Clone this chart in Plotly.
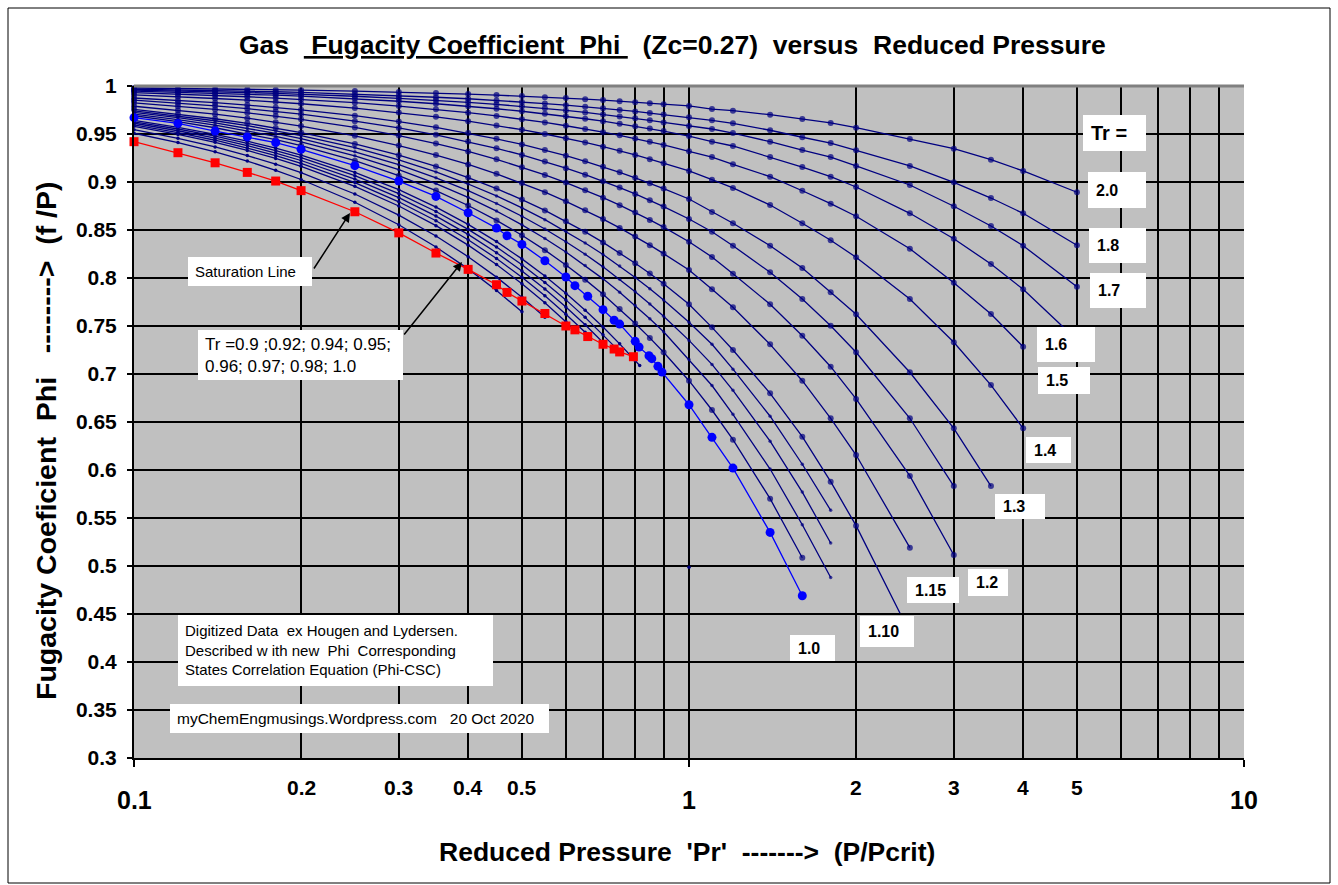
import math
import plotly.graph_objects as go

# ---------------- data ----------------
# common reduced-pressure grid used by the supercritical isotherms
PR_GRID = [0.1, 0.12, 0.14, 0.16, 0.18, 0.2, 0.25, 0.3, 0.35, 0.4, 0.45, 0.5, 0.55, 0.6,
           0.65, 0.7, 0.75, 0.8, 0.85, 0.9, 1.0, 1.1, 1.2, 1.4, 1.6, 1.8, 2.0, 2.5, 3.0,
           3.5, 4.0, 5.0]

# supercritical isotherms: Tr, last Pr, phi values
TR_SUPER = [2.0, 1.8, 1.7, 1.6, 1.5, 1.4, 1.3, 1.25, 1.2, 1.15, 1.10, 1.08, 1.06, 1.04, 1.02]
END_SUPER = [5.0, 5.0, 5.0, 5.0, 4.0, 4.0, 3.5, 3.0, 3.0, 2.5, 2.4, 1.8, 1.8, 1.8, 1.6]

PHI_20 = [0.9979, 0.9975, 0.9970, 0.9966, 0.9962, 0.9958, 0.9947, 0.9937, 0.9926, 0.9916, 0.9905,
          0.9895, 0.9884, 0.9874, 0.9863, 0.9853, 0.9842, 0.9832, 0.9821, 0.9811, 0.9792, 0.9760,
          0.9743, 0.9701, 0.9656, 0.9615, 0.9566, 0.9448, 0.9347, 0.9232, 0.9115, 0.8893]
PHI_18 = [0.9966, 0.9960, 0.9953, 0.9946, 0.9940, 0.9933, 0.9916, 0.9900, 0.9883, 0.9867, 0.9850,
          0.9833, 0.9817, 0.9800, 0.9784, 0.9768, 0.9751, 0.9735, 0.9718, 0.9702, 0.9674, 0.9643,
          0.9611, 0.9539, 0.9466, 0.9406, 0.9330, 0.9167, 0.8997, 0.8833, 0.8674, 0.8341]
PHI_17 = [0.9957, 0.9949, 0.9940, 0.9932, 0.9923, 0.9915, 0.9893, 0.9872, 0.9851, 0.9830, 0.9809,
          0.9788, 0.9767, 0.9746, 0.9725, 0.9704, 0.9683, 0.9663, 0.9642, 0.9621, 0.9583, 0.9552,
          0.9510, 0.9420, 0.9333, 0.9260, 0.9167, 0.8969, 0.8747, 0.8542, 0.8336, 0.7909]
PHI_16 = [0.9947, 0.9936, 0.9925, 0.9915, 0.9904, 0.9894, 0.9867, 0.9841, 0.9815, 0.9789, 0.9763,
          0.9737, 0.9711, 0.9685, 0.9659, 0.9633, 0.9607, 0.9582, 0.9556, 0.9531, 0.9479, 0.9420,
          0.9375, 0.9260, 0.9156, 0.9055, 0.8948, 0.8674, 0.8409, 0.8146, 0.7882, 0.7354]
PHI_15 = [0.9930, 0.9916, 0.9902, 0.9888, 0.9874, 0.9860, 0.9826, 0.9791, 0.9757, 0.9722, 0.9688,
          0.9654, 0.9620, 0.9586, 0.9553, 0.9519, 0.9486, 0.9452, 0.9419, 0.9386, 0.9320, 0.9260,
          0.9184, 0.9055, 0.8909, 0.8774, 0.8643, 0.8305, 0.7951, 0.7625, 0.7284]
PHI_14 = [0.9907, 0.9889, 0.9870, 0.9852, 0.9834, 0.9815, 0.9770, 0.9724, 0.9679, 0.9634, 0.9589,
          0.9545, 0.9500, 0.9456, 0.9412, 0.9368, 0.9325, 0.9282, 0.9238, 0.9195, 0.9115, 0.9024,
          0.8938, 0.8760, 0.8570, 0.8393, 0.8216, 0.7781, 0.7330, 0.6885, 0.6434]
PHI_13 = [0.9875, 0.9850, 0.9826, 0.9801, 0.9776, 0.9752, 0.9691, 0.9630, 0.9570, 0.9510, 0.9450,
          0.9391, 0.9333, 0.9274, 0.9216, 0.9158, 0.9101, 0.9044, 0.8987, 0.8931, 0.8823, 0.8688,
          0.8570, 0.8336, 0.8104, 0.7851, 0.7622, 0.7018, 0.6434, 0.5833]
PHI_125 = [0.9852, 0.9823, 0.9793, 0.9764, 0.9735, 0.9706, 0.9634, 0.9563, 0.9492, 0.9421, 0.9351,
           0.9282, 0.9213, 0.9144, 0.9076, 0.9009, 0.8942, 0.8876, 0.8810, 0.8744, 0.8615, 0.8482,
           0.8336, 0.8059, 0.7781, 0.7503, 0.7226, 0.6539, 0.5833]
PHI_12 = [0.9825, 0.9790, 0.9756, 0.9721, 0.9687, 0.9653, 0.9568, 0.9484, 0.9400, 0.9318, 0.9236,
          0.9154, 0.9074, 0.8994, 0.8915, 0.8837, 0.8759, 0.8682, 0.8605, 0.8530, 0.8378, 0.8219,
          0.8045, 0.7726, 0.7399, 0.7076, 0.6740, 0.5938, 0.5115]
PHI_115 = [0.9789, 0.9747, 0.9706, 0.9665, 0.9623, 0.9583, 0.9481, 0.9380, 0.9281, 0.9183, 0.9085,
           0.8989, 0.8894, 0.8799, 0.8706, 0.8614, 0.8522, 0.8432, 0.8342, 0.8254, 0.8083, 0.7882,
           0.7695, 0.7309, 0.6930, 0.6539, 0.6156, 0.5191]
PHI_110 = [0.9756, 0.9707, 0.9659, 0.9611, 0.9563, 0.9515, 0.9397, 0.9279, 0.9162, 0.9046, 0.8931,
           0.8817, 0.8704, 0.8592, 0.8481, 0.8371, 0.8261, 0.8153, 0.8046, 0.7940, 0.7726, 0.7486,
           0.7250, 0.6799, 0.6347, 0.5878, 0.5420, 0.4507]
PHI_108 = [0.9741, 0.9689, 0.9638, 0.9587, 0.9535, 0.9484, 0.9357, 0.9230, 0.9105, 0.8979, 0.8855,
           0.8731, 0.8608, 0.8486, 0.8365, 0.8244, 0.8125, 0.8006, 0.7888, 0.7771, 0.7540, 0.7310,
           0.7050, 0.6560, 0.6060, 0.5580]
PHI_106 = [0.9725, 0.9670, 0.9615, 0.9561, 0.9506, 0.9452, 0.9315, 0.9180, 0.9044, 0.8910, 0.8776,
           0.8643, 0.8510, 0.8378, 0.8247, 0.8116, 0.7986, 0.7857, 0.7729, 0.7602, 0.7350, 0.7100,
           0.6830, 0.6300, 0.5770, 0.5240]
PHI_104 = [0.9708, 0.9650, 0.9592, 0.9534, 0.9476, 0.9418, 0.9273, 0.9128, 0.8984, 0.8840, 0.8697,
           0.8554, 0.8412, 0.8271, 0.8130, 0.7991, 0.7851, 0.7713, 0.7576, 0.7440, 0.7150, 0.6880,
           0.6580, 0.6010, 0.5430, 0.4880]
PHI_102 = [0.9690, 0.9628, 0.9565, 0.9503, 0.9441, 0.9378, 0.9222, 0.9066, 0.8911, 0.8755, 0.8600,
           0.8445, 0.8290, 0.8136, 0.7983, 0.7830, 0.7677, 0.7526, 0.7376, 0.7226, 0.6930, 0.6625,
           0.6316, 0.5701, 0.5086]
PHI_SUPER = [PHI_20, PHI_18, PHI_17, PHI_16, PHI_15, PHI_14, PHI_13, PHI_125, PHI_12, PHI_115,
             PHI_110, PHI_108, PHI_106, PHI_104, PHI_102]

# Tr = 1.0 (critical isotherm, highlighted blue)
PR_10 = [0.1, 0.12, 0.14, 0.16, 0.18, 0.2, 0.25, 0.3, 0.35, 0.4, 0.45, 0.47, 0.5, 0.55, 0.6, 0.623,
         0.657, 0.7, 0.733, 0.75, 0.8, 0.813, 0.847, 0.857, 0.879, 0.894, 1.0, 1.1, 1.2, 1.4, 1.6]
PHI_10 = [0.967, 0.961, 0.953, 0.947, 0.941, 0.934, 0.917, 0.901, 0.885, 0.868, 0.852, 0.844,
          0.835, 0.818, 0.801, 0.792, 0.781, 0.767, 0.756, 0.752, 0.734, 0.728, 0.719, 0.716,
          0.708, 0.702, 0.668, 0.634, 0.602, 0.535, 0.469]

# subcritical isotherms ending at the saturation line
TR_SUB = [0.98, 0.97, 0.96, 0.95, 0.94, 0.92, 0.90]
END_SUB = [0.815, 0.74, 0.70, 0.66, 0.62, 0.55, 0.50]
PHI_098 = [0.9641, 0.9570, 0.9497, 0.9425, 0.9353, 0.9281, 0.9100, 0.8920, 0.8739, 0.8559, 0.8379,
           0.8199, 0.8020, 0.7842, 0.7665, 0.7489, 0.7314, 0.7140, 0.7088]
PHI_097 = [0.9627, 0.9552, 0.9477, 0.9403, 0.9328, 0.9253, 0.9066, 0.8879, 0.8693, 0.8507, 0.8322,
           0.8138, 0.7954, 0.7772, 0.7590, 0.7410, 0.7267]
PHI_096 = [0.9612, 0.9534, 0.9456, 0.9379, 0.9301, 0.9224, 0.9030, 0.8838, 0.8645, 0.8454, 0.8263,
           0.8074, 0.7885, 0.7699, 0.7513, 0.7329]
PHI_095 = [0.9596, 0.9515, 0.9435, 0.9354, 0.9274, 0.9194, 0.8994, 0.8794, 0.8596, 0.8399, 0.8203,
           0.8008, 0.7815, 0.7623, 0.7434, 0.7396]
PHI_094 = [0.9580, 0.9496, 0.9413, 0.9329, 0.9246, 0.9163, 0.8955, 0.8750, 0.8545, 0.8342, 0.8140,
           0.7940, 0.7742, 0.7546, 0.7468]
PHI_092 = [0.9545, 0.9455, 0.9365, 0.9275, 0.9186, 0.9097, 0.8875, 0.8655, 0.8438, 0.8222, 0.8009,
           0.7799, 0.7590]
PHI_090 = [0.9508, 0.9411, 0.9314, 0.9218, 0.9122, 0.9026, 0.8789, 0.8555, 0.8323, 0.8095, 0.7870,
           0.7648]
PHI_SUB = [PHI_098, PHI_097, PHI_096, PHI_095, PHI_094, PHI_092, PHI_090]

# saturation line
PR_SAT = [0.1, 0.12, 0.14, 0.16, 0.18, 0.2, 0.25, 0.3, 0.35, 0.4, 0.45, 0.47, 0.5, 0.55, 0.6,
          0.623, 0.657, 0.7, 0.733, 0.75, 0.794]
PHI_SAT = [0.942, 0.9305, 0.920, 0.910, 0.901, 0.891, 0.869, 0.847, 0.826, 0.809, 0.793, 0.785,
           0.776, 0.763, 0.750, 0.746, 0.739, 0.731, 0.726, 0.723, 0.718]

# lone point at Pr = 1
PR_DOT = [1.0]
PHI_DOT = [0.4986]

# axis ticks / labels
Y_TICKS = [0.3, 0.35, 0.4, 0.45, 0.5, 0.55, 0.6, 0.65, 0.7, 0.75, 0.8, 0.85, 0.9, 0.95, 1.0]
X_MAJOR = [0.1, 1, 10]
X_MINOR_LABELED = [0.2, 0.3, 0.4, 0.5, 2, 3, 4, 5]
X_MINOR_GRID = [0.2, 0.3, 0.4, 0.5, 0.6, 0.7, 0.8, 0.9, 2, 3, 4, 5, 6, 7, 8, 9]

CURVE_LABELS = ["Tr =", "2.0", "1.8", "1.7", "1.6", "1.5", "1.4", "1.3", "1.2", "1.15", "1.10", "1.0"]

TITLE = ("Gas\u00a0 <u>\u00a0Fugacity Coefficient\u00a0\u00a0Phi\u00a0</u>\u00a0\u00a0(Zc=0.27)"
         "\u00a0\u00a0versus\u00a0\u00a0Reduced Pressure")
X_TITLE = "Reduced Pressure\u00a0\u00a0'Pr'\u00a0\u00a0------->\u00a0\u00a0(P/Pcrit)"
Y_TITLE = "Fugacity Coeficient\u00a0\u00a0Phi\u00a0\u00a0\u00a0-------->\u00a0\u00a0(f /P)"
NOTE_SAT = "Saturation Line"
NOTE_TR = "Tr =0.9 ;0.92; 0.94; 0.95;<br>0.96; 0.97; 0.98; 1.0"
NOTE_SRC = ("Digitized Data\u00a0 ex Hougen and Lydersen.<br>Described w ith new\u00a0 Phi\u00a0 Corresponding"
            "<br>States Correlation Equation (Phi-CSC)")
NOTE_WEB = "myChemEngmusings.Wordpress.com\u00a0\u00a0 20 Oct 2020"

# ---------------- styling ----------------
W, H = 1338, 885
L, R, T, B = 134, 94, 86, 127
PW, PH = W - L - R, H - T - B
FONT = "Liberation Sans, Arial, sans-serif"
NAVY = "#000080"
BLUE = "#0000FF"
RED = "#FF0000"
GRIDW = 1.8


def px(xp):
    return (xp - L) / PW


def py(yp):
    return (H - B - yp) / PH


def xs_for(grid, end):
    return [p for p in grid if p < end - 1e-9] + [end]


fig = go.Figure()

super_marker = {2.0: 6, 1.8: 6, 1.7: 6, 1.6: 6, 1.5: 6, 1.4: 6, 1.3: 6, 1.25: 6, 1.2: 6,
                1.15: 6, 1.10: 6, 1.08: 3.5, 1.06: 3.5, 1.04: 3.5, 1.02: 6}

for tr, end, phi in zip(TR_SUPER, END_SUPER, PHI_SUPER):
    xs = xs_for(PR_GRID, end)
    assert len(xs) == len(phi), (tr, len(xs), len(phi))
    sz = [super_marker[tr]] * len(xs)
    if tr == 1.10:
        sz[-1] = 0
    fig.add_trace(go.Scatter(x=xs, y=phi, mode="lines+markers", cliponaxis=False,
                             line=dict(color=NAVY, width=1.3),
                             marker=dict(color=NAVY, size=sz, line=dict(width=0)),
                             name=f"Tr={tr}", showlegend=False, hoverinfo="skip"))

for tr, end, phi in zip(TR_SUB, END_SUB, PHI_SUB):
    xs = xs_for(PR_GRID, end)
    assert len(xs) == len(phi), (tr, len(xs), len(phi))
    fig.add_trace(go.Scatter(x=xs, y=phi, mode="lines+markers", cliponaxis=False,
                             line=dict(color=NAVY, width=1.3),
                             marker=dict(color=NAVY, size=3.5, line=dict(width=0)),
                             showlegend=False, hoverinfo="skip"))

fig.add_trace(go.Scatter(x=PR_DOT, y=PHI_DOT, mode="markers",
                         marker=dict(color=NAVY, size=3.5), showlegend=False, hoverinfo="skip"))

fig.add_trace(go.Scatter(x=PR_10, y=PHI_10, mode="lines+markers", cliponaxis=False,
                         line=dict(color=BLUE, width=1.3),
                         marker=dict(color=BLUE, size=9, line=dict(width=0)),
                         showlegend=False, hoverinfo="skip"))

fig.add_trace(go.Scatter(x=PR_SAT, y=PHI_SAT, mode="lines+markers", cliponaxis=False,
                         line=dict(color=RED, width=1.3),
                         marker=dict(color=RED, size=9, symbol="square", line=dict(width=0)),
                         showlegend=False, hoverinfo="skip"))

shapes = []
annotations = []

# outer frame and plot-area top edge
shapes.append(dict(type="rect", xref="paper", yref="paper", x0=px(8), x1=px(1330),
                   y0=py(883), y1=py(8), line=dict(color="black", width=1), layer="below"))
shapes.append(dict(type="line", xref="paper", yref="paper", x0=0, x1=1, y0=1, y1=1,
                   line=dict(color="#808080", width=3), layer="above"))


def box(x0, y0, x1, y1):
    shapes.append(dict(type="rect", xref="paper", yref="paper", x0=px(x0), x1=px(x1),
                       y0=py(y1), y1=py(y0), fillcolor="white", line=dict(width=0),
                       layer="above"))


def text(x, y, s, size, bold=False, anchor="left", angle=0):
    annotations.append(dict(xref="paper", yref="paper", x=px(x), y=py(y), text=s,
                            showarrow=False, xanchor=anchor, yanchor="middle", align="left",
                            textangle=angle,
                            font=dict(family=FONT, size=size, color="black",
                                      weight="bold" if bold else "normal")))


# curve label boxes: (box x0, y0, x1, y1)
label_boxes = [(1083, 115, 1146, 151), (1088, 172, 1146, 208), (1089, 228, 1146, 263),
               (1090, 273, 1146, 308), (1037, 327, 1095, 362), (1038, 367, 1090, 394),
               (1026, 437, 1071, 463), (995, 494, 1045, 519), (968, 569, 1008, 596),
               (907, 577, 959, 603), (860, 616, 914, 647), (790, 635, 835, 661)]
label_sizes = [20, 16, 16, 16, 16, 16, 16, 16, 16, 16, 16, 16]
for lab, (x0, y0, x1, y1), fs in zip(CURVE_LABELS, label_boxes, label_sizes):
    box(x0, y0, x1, y1)
    text(x0 + 6, (y0 + y1) / 2, lab, fs, bold=True)

# note boxes
box(188, 257, 312, 286)
text(193, 271, NOTE_SAT, 15)
box(198, 330, 403, 380)
text(203, 355, NOTE_TR, 17)
box(178, 615, 493, 686)
text(183, 650, NOTE_SRC, 15)
box(170, 704, 549, 733)
text(175, 718, NOTE_WEB, 15.5)

# arrows
annotations.append(dict(xref="paper", yref="paper", x=px(350), y=py(213), ax=-37, ay=57,
                        text="", showarrow=True, arrowhead=2, arrowsize=1.2, arrowwidth=1.5,
                        arrowcolor="black"))
annotations.append(dict(xref="paper", yref="paper", x=px(462), y=py(262), ax=-59, ay=74,
                        text="", showarrow=True, arrowhead=2, arrowsize=1.2, arrowwidth=1.5,
                        arrowcolor="black"))

# titles
text(672, 45, "<b>" + TITLE + "</b>", 26.5, bold=True, anchor="center")
text(687, 852, X_TITLE, 26.5, bold=True, anchor="center")
text(46, 441, Y_TITLE, 28.5, bold=True, anchor="center", angle=-90)

# x tick labels (two tiers as in the reference)
for v in X_MAJOR:
    annotations.append(dict(xref="x", yref="paper", x=math.log10(v), y=py(800),
                            text=f"{v:g}", showarrow=False, xanchor="center", yanchor="middle",
                            font=dict(family=FONT, size=25, color="black", weight="bold")))
for v in X_MINOR_LABELED:
    annotations.append(dict(xref="x", yref="paper", x=math.log10(v), y=py(787),
                            text=f"{v:g}", showarrow=False, xanchor="center", yanchor="middle",
                            font=dict(family=FONT, size=21, color="black", weight="bold")))

fig.update_layout(
    width=W, height=H,
    margin=dict(l=L, r=R, t=T, b=B, autoexpand=False),
    paper_bgcolor="white",
    plot_bgcolor="#C0C0C0",
    showlegend=False,
    shapes=shapes,
    annotations=annotations,
    xaxis=dict(type="log", range=[-1, 1], showgrid=True, gridcolor="black", gridwidth=GRIDW,
               tickmode="array", tickvals=X_MAJOR, ticks="outside", ticklen=7,
               tickcolor="black", tickwidth=1.5, showticklabels=False,
               showline=True, linecolor="black", linewidth=2, zeroline=False,
               minor=dict(tickmode="array", tickvals=X_MINOR_GRID, showgrid=True,
                          gridcolor="black", gridwidth=GRIDW, ticks="")),
    yaxis=dict(range=[0.3, 1.0], showgrid=True, gridcolor="black", gridwidth=GRIDW,
               tickmode="array", tickvals=Y_TICKS, ticktext=[f"{v:g}" for v in Y_TICKS],
               ticks="outside", ticklen=5, tickcolor="black", tickwidth=1.5,
               ticklabelstandoff=6,
               tickfont=dict(family=FONT, size=21, color="black", weight="bold"),
               showline=True, linecolor="black", linewidth=2, zeroline=False),
)

fig.write_html("out.html")
